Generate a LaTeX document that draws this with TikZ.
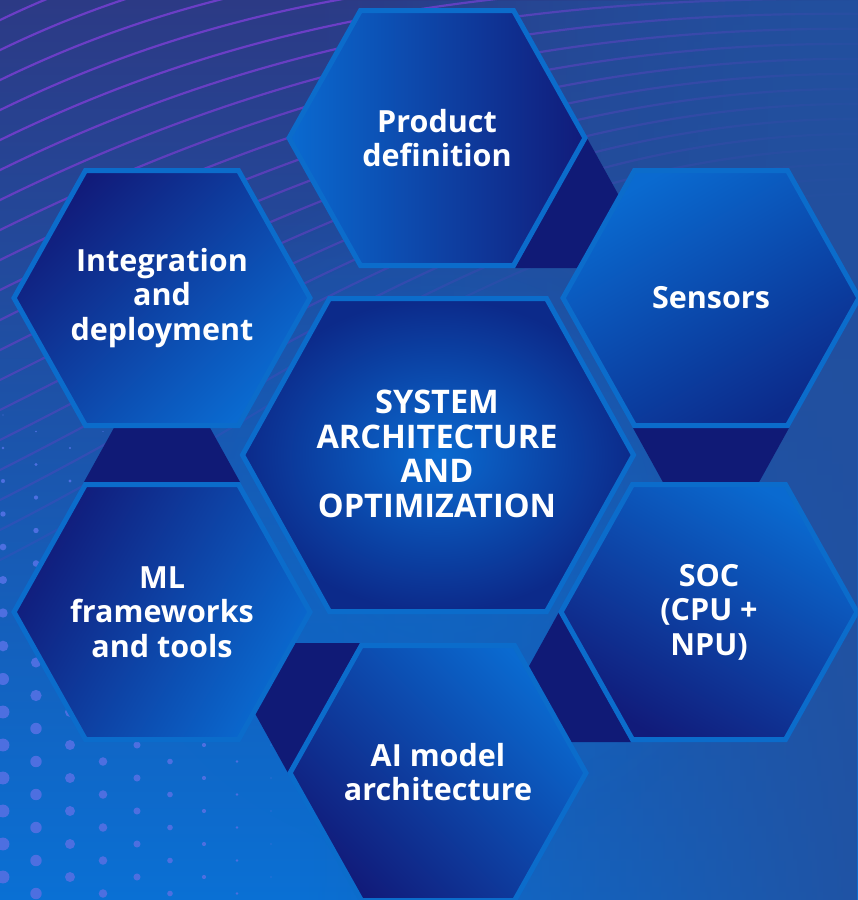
\documentclass[tikz,border=0pt]{standalone}
\usepackage{fontspec}
\setmainfont{Open Sans}
\usetikzlibrary{fadings}
\tikzfading[name=myfadeleft, left color=transparent!100, right color=transparent!0]
\tikzfading[name=myglow, inner color=transparent!0, outer color=transparent!100]
\definecolor{bgtop}{HTML}{2C3A85}
\definecolor{bgbot}{HTML}{0A70D4}
\definecolor{bgright}{HTML}{22509F}
\definecolor{glowc}{HTML}{0B6CCC}
\definecolor{stripe}{HTML}{6B3EC6}
\definecolor{dotc}{HTML}{4D6FE0}
\definecolor{hexborder}{HTML}{0B6CCB}
\definecolor{darktri}{HTML}{101A76}
\definecolor{hdark}{HTML}{111B7A}
\definecolor{hbright}{HTML}{0A6AD0}
\definecolor{hmid}{HTML}{0C2A8A}
\newcommand{\hexsmall}{(-148,0) -- (-76.5,-127.5) -- (76.5,-127.5) -- (148,0) -- (76.5,127.5) -- (-76.5,127.5) -- cycle}
\newcommand{\hexbig}{(-195.5,0) -- (-108.5,-156.5) -- (108.5,-156.5) -- (195.5,0) -- (108.5,156.5) -- (-108.5,156.5) -- cycle}
\begin{document}
\begin{tikzpicture}[x=1pt,y=-1pt,
  hexb/.style={draw=hexborder, line width=5pt},
  lbl/.style={text=white, align=center, inner sep=0pt,
    font=\fontsize{30.5}{34.5}\selectfont\bfseries},
  biglbl/.style={lbl, font=\fontsize{32.5}{34.5}\selectfont\bfseries},
  darkpt/.style={fill=darktri},
  stripeline/.style={draw=stripe, line width=2.2pt}]
\useasboundingbox (0,0) rectangle (858,900);
\begin{scope}
\clip (0,0) rectangle (858,900);
% background
\shade[top color=bgtop, bottom color=bgbot] (0,0) rectangle (858,900);
\fill[bgright, path fading=myfadeleft, fill opacity=0.9] (300,0) rectangle (858,900);
\fill[glowc, path fading=myglow, fill opacity=0.7] (440,520) circle (340);
% purple stripes
\foreach \i in {0,...,24} {
  \pgfmathsetmacro\yl{-160+30*\i}
  \pgfmathsetmacro\ttop{0.5*\yl-90}
  \pgfmathsetmacro\op{max(0.12,min(1,1-(\yl-150)/500))}
  \draw[stripeline, draw opacity=\op] (-10,{\yl+5}) .. controls (267,{\yl-133}) and (533,\ttop) .. (870,{\ttop+4});
}
\fill[bgright, path fading=myfadeleft, fill opacity=0.93] (380,0) rectangle (858,330);
% halftone dots
\foreach \j in {0,...,30} {
  \foreach \k in {0,...,6} {
    \pgfmathsetmacro\yy{415+16.5*\j}
    \pgfmathsetmacro\xx{3+33*mod(\j,2)+67*\k}
    \pgfmathsetmacro\rr{6.5*max(0,1-\xx/300)*max(0,min(1,(\yy-380)/320))}
    \ifdim\rr pt>0.6pt
      \fill[dotc] (\xx,\yy) circle (\rr);
    \fi
  }
}
% dark star points
\fill[darkpt] (587,138) -- (515,268) -- (659,268) -- cycle;
\fill[darkpt] (633,428) -- (789,428) -- (711,569) -- cycle;
\fill[darkpt] (84,482) -- (240,482) -- (162,341) -- cycle;
\fill[darkpt] (288,773) -- (360,643) -- (216,643) -- cycle;
\fill[darkpt] (559,612) -- (631,742) -- (487,742) -- cycle;
% hexagons
\begin{scope}[shift={(437,138)}]
  \shadedraw[hexb, left color=hbright, right color=hdark] \hexsmall;
\end{scope}
\begin{scope}[shift={(162,298)}]
  \shadedraw[hexb, top color=hdark, bottom color=hbright, shading angle=45] \hexsmall;
\end{scope}
\begin{scope}[shift={(711,298)}]
  \shadedraw[hexb, top color=hbright, bottom color=hmid, shading angle=30] \hexsmall;
\end{scope}
\begin{scope}[shift={(162,612)}]
  \shadedraw[hexb, top color=hdark, bottom color=hbright, shading angle=60] \hexsmall;
\end{scope}
\begin{scope}[shift={(709,612)}]
  \shadedraw[hexb, top color=hbright, bottom color=hdark, shading angle=-30] \hexsmall;
\end{scope}
\begin{scope}[shift={(438,773)}]
  \shadedraw[hexb, top color=hbright, bottom color=hdark, shading angle=-45] \hexsmall;
\end{scope}
\begin{scope}[shift={(438,455)}]
  \shadedraw[hexb, inner color=hbright, outer color=hmid] \hexbig;
\end{scope}
\end{scope}
% labels
\node[lbl] (tprod) at (437,138) {Product\\definition};
\node[lbl] (tint) at (162,298) {Integration\\and\\deployment};
\node[lbl] (tsens) at (711,298) {Sensors};
\node[biglbl] (tsys) at (437,454) {SYSTEM\\ARCHITECTURE\\AND\\OPTIMIZATION};
\node[lbl] (tml) at (162,612) {ML\\frameworks\\and tools};
\node[lbl] (tsoc) at (709,612) {SOC\\(CPU +\\NPU)};
\node[lbl] (tai) at (438,772) {AI model\\architecture};
\end{tikzpicture}
\end{document}
